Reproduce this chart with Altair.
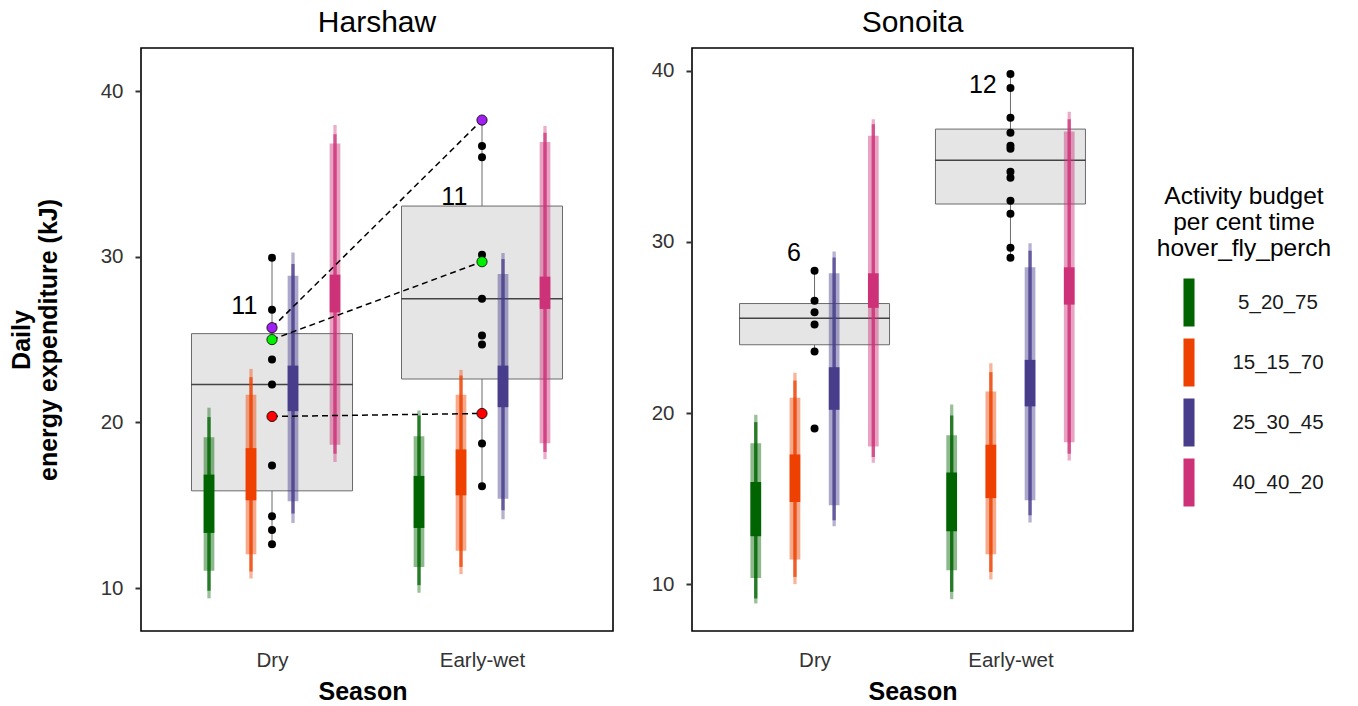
import altair as alt
import pandas as pd

FONT = "Liberation Sans"

sites = ["Harshaw", "Sonoita"]
seasons = ["Dry", "Early-wet"]
groups = ["5_20_75", "15_15_70", "25_30_45", "40_40_20"]
group_colors = ["#006400", "#EE4000", "#483D8B", "#CD3278"]

# daily energy expenditure (kJ) of individual birds
harshaw_dry = [29.94, 26.80, 25.72, 25.00, 23.80, 22.29, 20.36, 17.40, 14.34, 13.50, 12.65]
harshaw_wet = [38.25, 36.69, 36.00, 30.12, 29.70, 27.47, 25.24, 24.70, 20.54, 18.73, 16.14]
sonoita_dry = [28.32, 26.57, 25.90, 25.17, 23.60, 19.10]
sonoita_wet = [39.82, 39.00, 37.26, 36.38, 35.62, 35.45, 34.10, 33.75, 32.41, 31.65, 29.67, 29.08]

# birds measured in both seasons at Harshaw
tracked_ids = ["bird_1", "bird_2", "bird_3"]
tracked_fill = ["#A020F0", "#00EE00", "#FF0000"]
tracked_dry = [25.72, 25.00, 20.36]
tracked_wet = [38.25, 29.70, 20.54]

# sample-size label heights (kJ)
n_label_y = {"Harshaw": [27.05, 33.60], "Sonoita": [29.35, 39.18]}

# modelled intervals: Dry groups (4) then Early-wet groups (4)
levels = ["outer", "thin", "light", "solid"]
harshaw_lo = {
    "outer": [9.38, 10.58, 13.93, 17.61, 9.72, 10.84, 14.16, 17.77],
    "thin":  [9.84, 11.00, 14.50, 18.11, 10.18, 11.28, 14.70, 18.21],
    "light": [11.04, 12.05, 15.24, 18.65, 11.28, 12.25, 15.40, 18.75],
    "solid": [13.33, 15.30, 20.68, 26.64, 13.63, 15.60, 20.92, 26.85],
}
harshaw_hi = {
    "outer": [20.89, 23.23, 30.26, 37.95, 20.72, 23.17, 30.22, 37.89],
    "thin":  [20.32, 22.73, 29.56, 37.39, 20.42, 22.83, 29.86, 37.49],
    "light": [19.11, 21.67, 28.86, 36.83, 19.16, 21.67, 28.96, 36.93],
    "solid": [16.85, 18.45, 23.43, 28.92, 16.77, 18.37, 23.43, 28.80],
}
sonoita_lo = {
    "outer": [8.87, 10.00, 13.38, 17.10, 9.12, 10.27, 13.60, 17.23],
    "thin":  [9.16, 10.42, 13.73, 17.43, 9.55, 10.71, 14.02, 17.62],
    "light": [10.36, 11.44, 14.61, 18.05, 10.81, 11.75, 14.90, 18.30],
    "solid": [12.80, 14.80, 20.19, 26.15, 13.09, 15.03, 20.39, 26.34],
}
sonoita_hi = {
    "outer": [19.90, 22.35, 29.45, 37.18, 20.50, 22.91, 29.92, 37.62],
    "thin":  [19.47, 21.90, 29.10, 36.89, 19.86, 22.39, 29.49, 37.18],
    "light": [18.24, 20.89, 28.17, 36.21, 18.71, 21.26, 28.52, 36.46],
    "solid": [15.97, 17.58, 22.68, 28.17, 16.53, 18.15, 23.11, 28.52],
}

level_style = {
    "outer": dict(size=3.3, opacity=0.4),
    "thin": dict(size=3.3, opacity=0.75),
    "light": dict(size=10.7, opacity=0.45),
    "solid": dict(size=10.7, opacity=1.0),
}

# ---------- tables ----------
pt_rows = []
for site, dry, wet in [("Harshaw", harshaw_dry, harshaw_wet), ("Sonoita", sonoita_dry, sonoita_wet)]:
    for si, vals in enumerate([dry, wet]):
        for v in vals:
            pt_rows.append(dict(site=site, season=seasons[si], pos=si + 1, value=v))
pts_df = pd.DataFrame(pt_rows)

tr_rows = []
for i, bid in enumerate(tracked_ids):
    tr_rows.append(dict(site="Harshaw", id=bid, fill=tracked_fill[i], pos=1, value=tracked_dry[i]))
    tr_rows.append(dict(site="Harshaw", id=bid, fill=tracked_fill[i], pos=2, value=tracked_wet[i]))
tr_df = pd.DataFrame(tr_rows)

int_rows = []
for site, lo, hi in [("Harshaw", harshaw_lo, harshaw_hi), ("Sonoita", sonoita_lo, sonoita_hi)]:
    for k in range(8):
        s, g = divmod(k, 4)
        pos = (s + 1) + (g - 1.5) * 0.2
        for lev in levels:
            int_rows.append(dict(site=site, season=seasons[s], group=groups[g], level=lev,
                                 pos=pos, lo=lo[lev][k], hi=hi[lev][k]))
int_df = pd.DataFrame(int_rows)

lab_rows = []
counts = {"Harshaw": [len(harshaw_dry), len(harshaw_wet)], "Sonoita": [len(sonoita_dry), len(sonoita_wet)]}
for site in sites:
    for si in range(2):
        lab_rows.append(dict(site=site, pos=si + 1 - 0.07, y=n_label_y[site][si], text=str(counts[site][si])))
lab_df = pd.DataFrame(lab_rows)

color_scale = alt.Scale(domain=groups, range=group_colors)
legend = alt.Legend(
    title=["Activity budget", "per cent time", "hover_fly_perch"],
    orient="none", legendX=1016, legendY=137,
    titleFontSize=24.5, titleFontWeight="normal", titleFont=FONT, titleColor="black",
    titleLineHeight=26, titleAlign="center", titleAnchor="middle", titlePadding=17,
    labelFontSize=20.5, labelFont=FONT, labelColor="#1a1a1a", labelAlign="center", labelOffset=65,
    symbolType="M-0.23,-1H0.23V1H-0.23Z", symbolSize=2304, symbolOpacity=1,
    symbolStrokeWidth=0, rowPadding=12,
)

label_expr = f"datum.value == 1 ? '{seasons[0]}' : '{seasons[1]}'"


def panel(site, ydom, box_size, width, y_title, x_title_x):
    xs = alt.Scale(domain=[0.4, 2.6], nice=False, zero=False)
    ys = alt.Scale(domain=ydom, nice=False, zero=False)
    if x_title_x is None:
        xaxis = alt.Axis(values=[1, 2], labelExpr=label_expr)
    else:
        xaxis = alt.Axis(values=[1, 2], labelExpr=label_expr, titleX=x_title_x)
    yaxis = alt.Axis(values=[10, 20, 30, 40])

    def X():
        return alt.X("pos:Q", scale=xs, axis=xaxis, title="Season")

    def Y(field):
        return alt.Y(field, scale=ys, axis=yaxis, title=y_title)

    box = alt.Chart(pts_df).transform_filter(alt.datum.site == site).mark_boxplot(
        orient="vertical", size=box_size, extent=1.5, outliers=False, ticks=False,
        color="#E5E5E5",
        box={"fill": "#E5E5E5", "stroke": "#6b6b6b", "strokeWidth": 1},
        median={"color": "black", "thickness": 1.5},
        rule={"color": "#6b6b6b", "strokeWidth": 1},
    ).encode(x=X(), y=Y("value:Q"))

    bars = []
    for lev in levels:
        st = level_style[lev]
        bars.append(
            alt.Chart(int_df)
            .transform_filter((alt.datum.site == site) & (alt.datum.level == lev))
            .mark_bar(size=st["size"], opacity=st["opacity"])
            .encode(x=X(), y=Y("lo:Q"), y2="hi:Q",
                    color=alt.Color("group:N", scale=color_scale, legend=legend))
        )

    dots = alt.Chart(pts_df).transform_filter(alt.datum.site == site).mark_circle(
        size=64, color="black", opacity=1).encode(x=X(), y=Y("value:Q"))

    labels = alt.Chart(lab_df).transform_filter(alt.datum.site == site).mark_text(
        align="right", baseline="middle", fontSize=25, font=FONT, color="black"
    ).encode(x=X(), y=Y("y:Q"), text="text:N")

    layers = [box] + bars
    if site == "Harshaw":
        lines = alt.Chart(tr_df).mark_line(
            color="black", strokeDash=[6, 4], strokeWidth=1.5).encode(
            x=X(), y=Y("value:Q"), detail="id:N")
        layers.append(lines)
    layers.append(dots)
    if site == "Harshaw":
        tracked = alt.Chart(tr_df).mark_point(
            filled=True, size=105, stroke="black", strokeWidth=0.8, opacity=1).encode(
            x=X(), y=Y("value:Q"), fill=alt.Fill("fill:N", scale=None))
        layers.append(tracked)
    layers.append(labels)
    return alt.layer(*layers).properties(width=width, height=583, title=site)


left = panel("Harshaw", [7.41, 42.6], 161, 472, ["Daily", "energy expenditure (kJ)"], 221.5)
right = panel("Sonoita", [7.26, 41.34], 150, 441, None, None)

chart = alt.hconcat(left, right, spacing=36).properties(
    padding={"left": 8, "top": 7, "right": 5, "bottom": 0}
).configure_view(
    stroke="black", strokeWidth=1.6
).configure_axis(
    grid=False, domain=False, labelFont=FONT, labelFontSize=20.5, labelColor="#333333",
    titleFont=FONT, titleFontSize=25, titleFontWeight="bold", titleColor="black",
    tickColor="#333333", tickWidth=2, tickSize=6,
).configure_axisY(
    labelPadding=12, titlePadding=39,
).configure_axisX(
    ticks=False, labelPadding=19, titlePadding=9,
).configure_title(
    font=FONT, fontSize=30, fontWeight="normal", color="black", anchor="middle", offset=10,
)

chart.save("out.html", embed_options={"renderer": "svg", "actions": False})
